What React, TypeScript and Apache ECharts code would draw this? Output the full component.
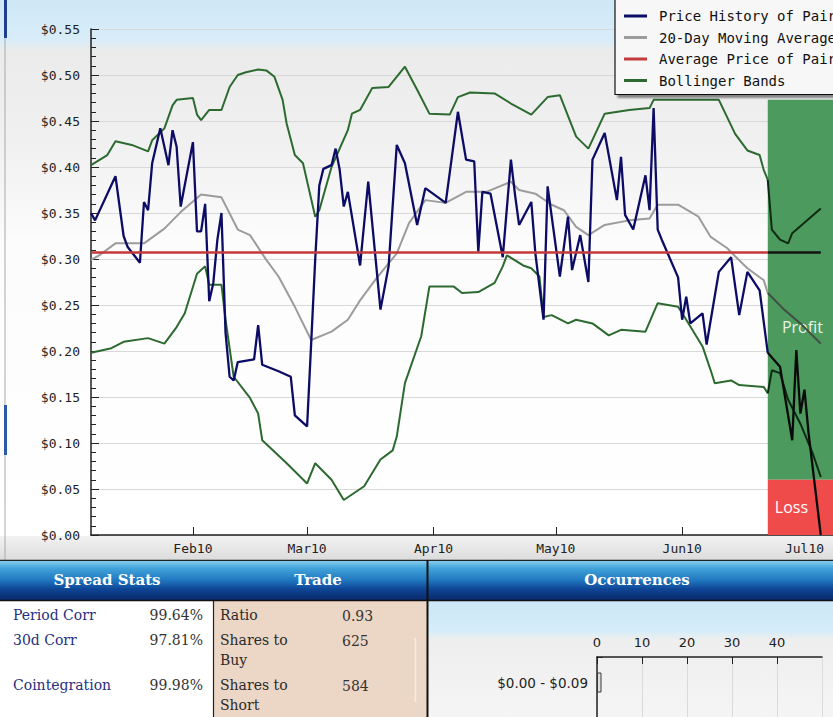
import React, { useEffect, useRef } from 'react';
import * as echarts from 'echarts';

// ---------- categories: calendar days shown on the x axis ----------
const START_UTC = Date.UTC(2010, 0, 7);
const DAY_COUNT = 183;
const dayCategories: string[] = [];
for (let i = 0; i < DAY_COUNT; i++) {
  const d = new Date(START_UTC + i * 86400000);
  dayCategories.push(String(d.getUTCMonth() + 1).padStart(2, '0') + '-' + String(d.getUTCDate()).padStart(2, '0'));
}
const monthNames = ['Jan', 'Feb', 'Mar', 'Apr', 'May', 'Jun', 'Jul', 'Aug', 'Sep', 'Oct', 'Nov', 'Dec'];
const yearSuffix = '10';

const legendNames = ['Price History of Pair', '20-Day Moving Average', 'Average Price of Pair', 'Bollinger Bands'];

// ---------- series values ----------
const price: [string, number][] = [
  ['01-07', 0.350], ['01-08', 0.342], ['01-13', 0.390], ['01-15', 0.325], ['01-16', 0.313], ['01-19', 0.296],
  ['01-20', 0.362], ['01-21', 0.353], ['01-22', 0.404], ['01-24', 0.442], ['01-26', 0.402], ['01-27', 0.440],
  ['01-28', 0.422], ['01-29', 0.357], ['02-01', 0.427], ['02-02', 0.330], ['02-03', 0.330], ['02-04', 0.360],
  ['02-05', 0.254], ['02-06', 0.274], ['02-07', 0.321], ['02-08', 0.350], ['02-09', 0.220], ['02-10', 0.172],
  ['02-11', 0.168], ['02-12', 0.188], ['02-16', 0.191], ['02-17', 0.228], ['02-18', 0.185], ['02-22', 0.178],
  ['02-25', 0.172], ['02-26', 0.130], ['03-01', 0.118], ['03-02', 0.208], ['03-03', 0.300], ['03-04', 0.380],
  ['03-05', 0.398], ['03-07', 0.402], ['03-08', 0.420], ['03-09', 0.397], ['03-10', 0.357], ['03-11', 0.373],
  ['03-14', 0.293], ['03-16', 0.384], ['03-19', 0.245], ['03-21', 0.292], ['03-23', 0.424], ['03-25', 0.404],
  ['03-28', 0.337], ['03-30', 0.377], ['04-04', 0.361], ['04-07', 0.460], ['04-09', 0.408], ['04-11', 0.406],
  ['04-12', 0.308], ['04-13', 0.373], ['04-15', 0.371], ['04-18', 0.302], ['04-20', 0.408], ['04-21', 0.370],
  ['04-22', 0.337], ['04-25', 0.362], ['04-26', 0.306], ['04-28', 0.234], ['04-29', 0.379], ['05-02', 0.281],
  ['05-04', 0.346], ['05-05', 0.288], ['05-07', 0.326], ['05-09', 0.275], ['05-10', 0.408], ['05-13', 0.437],
  ['05-16', 0.364], ['05-17', 0.411], ['05-18', 0.348], ['05-20', 0.332], ['05-23', 0.391], ['05-24', 0.353],
  ['05-25', 0.464], ['05-26', 0.332], ['05-27', 0.321], ['05-31', 0.280], ['06-01', 0.234], ['06-02', 0.259],
  ['06-03', 0.230], ['06-06', 0.241], ['06-07', 0.207], ['06-10', 0.286], ['06-13', 0.302], ['06-15', 0.239],
  ['06-17', 0.286], ['06-20', 0.266], ['06-22', 0.198],
];
const priceAfter: [string, number][] = [
  ['06-22', 0.198], ['06-25', 0.183], ['06-28', 0.103], ['06-29', 0.201], ['06-30', 0.132], ['07-01', 0.158],
  ['07-02', 0.111], ['07-05', 0.000],
];

const movingAvg: [string, number][] = [
  ['01-07', 0.299], ['01-09', 0.304], ['01-13', 0.317], ['01-20', 0.317], ['01-25', 0.333], ['01-29', 0.351],
  ['02-03', 0.370], ['02-08', 0.367], ['02-12', 0.332], ['02-15', 0.326], ['02-19', 0.299], ['02-22', 0.281],
  ['02-26', 0.248], ['03-02', 0.212], ['03-07', 0.221], ['03-11', 0.234], ['03-14', 0.255], ['03-18', 0.279],
  ['03-23', 0.306], ['03-26', 0.339], ['03-30', 0.364], ['04-04', 0.361], ['04-09', 0.373], ['04-14', 0.373],
  ['04-20', 0.384], ['04-22', 0.375], ['04-26', 0.371], ['04-30', 0.359], ['05-03', 0.353], ['05-06', 0.335],
  ['05-09', 0.326], ['05-13', 0.337], ['05-19', 0.342], ['05-24', 0.344], ['05-26', 0.359], ['05-31', 0.359],
  ['06-05', 0.346], ['06-08', 0.324], ['06-12', 0.312], ['06-14', 0.303], ['06-17', 0.290], ['06-21', 0.277],
  ['06-22', 0.263],
];
const movingAvgAfter: [string, number][] = [
  ['06-22', 0.263], ['06-26', 0.245], ['06-30', 0.230], ['07-05', 0.208],
];

const upperBand: [string, number][] = [
  ['01-07', 0.402], ['01-11', 0.413], ['01-13', 0.428], ['01-17', 0.424], ['01-21', 0.417], ['01-22', 0.429],
  ['01-25', 0.442], ['01-27', 0.467], ['01-28', 0.473], ['02-01', 0.475], ['02-02', 0.457], ['02-03', 0.451],
  ['02-05', 0.462], ['02-08', 0.462], ['02-10', 0.487], ['02-12', 0.500], ['02-14', 0.503], ['02-17', 0.506],
  ['02-19', 0.505], ['02-21', 0.498], ['02-23', 0.473], ['02-24', 0.447], ['02-26', 0.413], ['02-28', 0.404],
  ['03-03', 0.346], ['03-04', 0.353], ['03-07', 0.400], ['03-11', 0.440], ['03-12', 0.458], ['03-14', 0.462],
  ['03-17', 0.486], ['03-21', 0.487], ['03-25', 0.509], ['03-28', 0.484], ['03-31', 0.458], ['04-05', 0.457],
  ['04-07', 0.476], ['04-10', 0.481], ['04-16', 0.480], ['04-20', 0.469], ['04-25', 0.457], ['04-29', 0.476],
  ['05-02', 0.478], ['05-06', 0.433], ['05-09', 0.420], ['05-13', 0.458], ['05-19', 0.462], ['05-24', 0.464],
  ['05-25', 0.473], ['05-31', 0.473], ['06-10', 0.473], ['06-14', 0.436], ['06-17', 0.418], ['06-20', 0.413],
  ['06-21', 0.397], ['06-22', 0.386],
];
const upperBandAfter: [string, number][] = [
  ['06-22', 0.386], ['06-23', 0.332], ['06-25', 0.321], ['06-27', 0.317], ['06-28', 0.328], ['07-05', 0.355],
];

const lowerBand: [string, number][] = [
  ['01-07', 0.198], ['01-12', 0.203], ['01-15', 0.210], ['01-21', 0.214], ['01-25', 0.208], ['01-28', 0.226],
  ['01-30', 0.241], ['02-02', 0.284], ['02-04', 0.292], ['02-05', 0.272], ['02-08', 0.272], ['02-09', 0.234],
  ['02-11', 0.172], ['02-15', 0.149], ['02-17', 0.132], ['02-18', 0.103], ['02-24', 0.078], ['03-01', 0.056],
  ['03-03', 0.078], ['03-07', 0.060], ['03-10', 0.038], ['03-15', 0.053], ['03-19', 0.082], ['03-22', 0.092],
  ['03-23', 0.107], ['03-25', 0.165], ['03-29', 0.216], ['03-31', 0.270], ['04-06', 0.270], ['04-08', 0.263],
  ['04-12', 0.264], ['04-16', 0.274], ['04-18', 0.292], ['04-19', 0.304], ['04-23', 0.293], ['04-25', 0.290],
  ['04-27', 0.281], ['04-28', 0.237], ['04-30', 0.239], ['05-04', 0.230], ['05-06', 0.234], ['05-10', 0.230],
  ['05-14', 0.217], ['05-17', 0.223], ['05-23', 0.221], ['05-26', 0.252], ['05-31', 0.248], ['06-02', 0.234],
  ['06-06', 0.205], ['06-08', 0.179], ['06-09', 0.165], ['06-13', 0.168], ['06-15', 0.163], ['06-21', 0.161],
  ['06-22', 0.154],
];
const lowerBandAfter: [string, number][] = [
  ['06-22', 0.154], ['06-23', 0.179], ['06-25', 0.176], ['06-27', 0.147], ['06-30', 0.121], ['07-03', 0.089],
  ['07-05', 0.063],
];

const averagePrice = 0.307;
const averageSpan: string[] = ['01-07', '06-22'];
const averageSpanAfter: string[] = ['06-22', '07-05'];

// shaded outcome zones
const zoneStart = '06-22';
const zoneEnd = '07-08';
const profitRange: [number, number] = [0.06, 0.473];
const lossRange: [number, number] = [0, 0.06];

// bottom tables
const spreadStats: [string, string][] = [['Period Corr', '99.64%'], ['30d Corr', '97.81%'], ['Cointegration', '99.98%']];
const tradeRows: [string[], string][] = [[['Ratio'], '0.93'], [['Shares to', 'Buy'], '625'], [['Shares to', 'Short'], '584']];
const occurrenceBins = ['$0.00 - $0.09'];
const occurrenceCounts: number[] = [1];

const lg = (stops: [number, string][]) =>
  new echarts.graphic.LinearGradient(0, 0, 0, 1, stops.map(([offset, color]) => ({ offset, color })));

const mono = 'DejaVu Sans Mono';
const serif = 'DejaVu Serif';

function buildOption(): any {
  const isMonthStart = (_i: number, v: string) => v.endsWith('-01');
  const lineSeries = (name: string, data: any[], color: string, width: number, extra: any = {}) => ({
    name,
    type: 'line',
    xAxisIndex: 0,
    yAxisIndex: 0,
    data,
    symbol: 'none',
    showSymbol: false,
    silent: true,
    lineStyle: { color, width },
    itemStyle: { color },
    ...extra,
  });

  const graphics: any[] = [];
  // page background of the upper chart
  graphics.push({
    type: 'rect', silent: true, z: -10,
    shape: { x: 0, y: 0, width: 833, height: 536 },
    style: { fill: lg([[0, '#cfe7f6'], [0.075, '#d8edf8'], [0.095, '#ebebeb'], [0.28, '#f1f1f1'], [0.45, '#fcfcfc'], [1, '#ffffff']]) },
  });
  // x label strip
  graphics.push({
    type: 'rect', silent: true, z: -10,
    shape: { x: 0, y: 536, width: 833, height: 24 },
    style: { fill: lg([[0, '#f2f2f2'], [1, '#dcdcdc']]) },
  });
  // left window edge
  graphics.push({ type: 'line', silent: true, z: -9, shape: { x1: 5, y1: 0, x2: 5, y2: 560 }, style: { stroke: '#a9a9a9', lineWidth: 1 } });
  graphics.push({ type: 'rect', silent: true, z: -9, shape: { x: 4, y: 0, width: 3, height: 38 }, style: { fill: '#1d3f8c' } });
  graphics.push({ type: 'rect', silent: true, z: -9, shape: { x: 4, y: 405, width: 3, height: 50 }, style: { fill: '#2a5aa8' } });
  graphics.push({ type: 'line', silent: true, z: -9, shape: { x1: 0, y1: 560.5, x2: 833, y2: 560.5 }, style: { stroke: '#222', lineWidth: 1.5 } });
  // header bar
  graphics.push({
    type: 'rect', silent: true, z: -9,
    shape: { x: 0, y: 561, width: 833, height: 39 },
    style: { fill: lg([[0, '#86cdee'], [0.18, '#43a4da'], [0.5, '#1f76be'], [0.72, '#0f4596'], [1, '#0a2a6a']]) },
  });
  graphics.push({ type: 'line', silent: true, z: -8, shape: { x1: 0, y1: 600.5, x2: 833, y2: 600.5 }, style: { stroke: '#111', lineWidth: 1.5 } });
  // content backgrounds
  graphics.push({ type: 'rect', silent: true, z: -9, shape: { x: 0, y: 601, width: 213, height: 116 }, style: { fill: '#ffffff' } });
  graphics.push({ type: 'rect', silent: true, z: -9, shape: { x: 213, y: 601, width: 214, height: 116 }, style: { fill: '#ecd6c5' } });
  graphics.push({ type: 'line', silent: true, z: -8, shape: { x1: 415.5, y1: 638, x2: 415.5, y2: 702 }, style: { stroke: '#f6ece4', lineWidth: 1.5 } });
  graphics.push({
    type: 'rect', silent: true, z: -9,
    shape: { x: 428, y: 601, width: 405, height: 116 },
    style: { fill: lg([[0, '#cbe7f7'], [0.26, '#d6edf9'], [0.33, '#eeeeee'], [1, '#f5f5f5']]) },
  });
  graphics.push({ type: 'line', silent: true, z: -8, shape: { x1: 427.5, y1: 560, x2: 427.5, y2: 717 }, style: { stroke: '#111', lineWidth: 2 } });
  graphics.push({ type: 'line', silent: true, z: -8, shape: { x1: 213.5, y1: 601, x2: 213.5, y2: 717 }, style: { stroke: '#222', lineWidth: 1.2 } });
  // header texts
  const headerText = (text: string, x: number) => ({
    type: 'text', silent: true, z: 5, x, y: 580,
    style: { text, fill: '#ffffff', fontFamily: serif, fontWeight: 'bold', fontSize: 15, align: 'center', verticalAlign: 'middle' },
  });
  graphics.push(headerText('Spread Stats', 107), headerText('Trade', 318), headerText('Occurrences', 637));
  // spread stats
  const statY = [615, 640, 685];
  spreadStats.forEach(([label, value], i) => {
    graphics.push({ type: 'text', silent: true, z: 5, x: 13, y: statY[i], style: { text: label, fill: '#262f80', fontFamily: serif, fontSize: 14, align: 'left', verticalAlign: 'middle' } });
    graphics.push({ type: 'text', silent: true, z: 5, x: 203, y: statY[i], style: { text: value, fill: '#333333', fontFamily: serif, fontSize: 14, align: 'right', verticalAlign: 'middle' } });
  });
  // trade
  tradeRows.forEach(([labels, value], i) => {
    labels.forEach((l, j) => {
      graphics.push({ type: 'text', silent: true, z: 5, x: 220, y: statY[i] + j * 20, style: { text: l, fill: '#2a2a2a', fontFamily: serif, fontSize: 14, align: 'left', verticalAlign: 'middle' } });
    });
    graphics.push({ type: 'text', silent: true, z: 5, x: 342, y: statY[i] + 1, style: { text: value, fill: '#333333', fontFamily: serif, fontSize: 14, align: 'left', verticalAlign: 'middle' } });
  });

  const dark = '#0a0a0a';
  const series: any[] = [
    lineSeries('Bollinger Bands', upperBand, '#2c6a30', 2),
    lineSeries('Bollinger Bands', lowerBand, '#2c6a30', 2),
    lineSeries('20-Day Moving Average', movingAvg, '#9c9c9c', 2),
    lineSeries('Price History of Pair', price, '#0c0c66', 2.3),
    lineSeries('Average Price of Pair', averageSpan.map((d) => [d, averagePrice]), '#c43a3a', 2.6),
    lineSeries('upper after', upperBandAfter, '#0e2a12', 2),
    lineSeries('lower after', lowerBandAfter, '#0e2a12', 2),
    lineSeries('ma after', movingAvgAfter, '#3f4d42', 2),
    lineSeries('price after', priceAfter, dark, 2.3),
    lineSeries('average after', averageSpanAfter.map((d) => [d, averagePrice]), '#141414', 2.4, {
      markArea: {
        silent: true,
        data: [
          [
            {
              xAxis: zoneStart, yAxis: profitRange[0],
              itemStyle: { color: '#4c9a5d', opacity: 1 },
              label: { show: true, position: 'inside', offset: [2, 37], formatter: 'Profit', color: '#e6f3e6', fontFamily: 'Open Sans', fontSize: 16 },
            },
            { xAxis: zoneEnd, yAxis: profitRange[1] },
          ],
          [
            {
              xAxis: zoneStart, yAxis: lossRange[0],
              itemStyle: { color: '#ef4b4b', opacity: 1 },
              label: { show: true, position: 'inside', offset: [-9, 0], formatter: 'Loss', color: '#ffffff', fontFamily: 'Open Sans', fontSize: 16 },
            },
            { xAxis: zoneEnd, yAxis: lossRange[1] },
          ],
        ],
      },
    }),
    {
      name: 'occurrences',
      type: 'bar',
      xAxisIndex: 1,
      yAxisIndex: 1,
      data: occurrenceCounts,
      barWidth: 20,
      silent: true,
      itemStyle: { color: '#dedede', borderColor: '#3a3a3a', borderWidth: 1 },
    },
  ];

  return {
    animation: false,
    backgroundColor: 'transparent',
    graphic: { elements: graphics },
    legend: {
      data: legendNames,
      orient: 'vertical',
      left: 615,
      top: -5,
      padding: [13, 40, 6, 9],
      itemGap: 5.5,
      itemWidth: 23,
      itemHeight: 3,
      icon: 'rect',
      selectedMode: false,
      backgroundColor: '#f7f7f7',
      borderColor: '#111111',
      borderWidth: 1.2,
      shadowColor: 'rgba(0,0,0,0.45)',
      shadowBlur: 2,
      shadowOffsetX: 3,
      shadowOffsetY: 3,
      textStyle: { fontFamily: mono, fontSize: 14, color: '#111', lineHeight: 16, padding: [0, 0, 0, 7] },
    },
    grid: [
      { left: 91, right: 0, top: 29, bottom: 182, outerBoundsMode: 'none' },
      { left: 597, top: 657, width: 225, height: 102, outerBoundsMode: 'none' },
    ],
    xAxis: [
      {
        type: 'category',
        gridIndex: 0,
        data: dayCategories,
        boundaryGap: false,
        axisLine: { lineStyle: { color: '#222', width: 1.5 } },
        axisTick: { show: true, inside: true, length: 8, interval: isMonthStart, lineStyle: { color: '#222' } },
        axisLabel: {
          interval: isMonthStart,
          margin: 7,
          fontFamily: mono,
          fontSize: 13,
          color: '#222',
          formatter: (v: string) => monthNames[parseInt(v.slice(0, 2), 10) - 1] + yearSuffix,
        },
        splitLine: { show: false },
      },
      {
        type: 'value',
        gridIndex: 1,
        position: 'top',
        min: 0,
        max: 50,
        interval: 10,
        axisLine: { show: true, lineStyle: { color: '#222', width: 1.5 } },
        axisTick: { show: true, inside: true, length: 7, lineStyle: { color: '#222' } },
        axisLabel: { fontFamily: 'DejaVu Sans', fontSize: 13, color: '#222', margin: 8, showMaxLabel: false },
        splitLine: { show: true, lineStyle: { color: '#dadada' } },
      },
    ],
    yAxis: [
      {
        type: 'value',
        gridIndex: 0,
        min: 0,
        max: 0.55,
        interval: 0.05,
        axisLine: { show: true, lineStyle: { color: '#222', width: 1.5 } },
        axisTick: { show: true, inside: true, length: 8, lineStyle: { color: '#222' } },
        minorTick: { show: true, splitNumber: 5, length: 5, lineStyle: { color: '#222' } },
        axisLabel: { fontFamily: mono, fontSize: 13, color: '#222', margin: 11, formatter: (v: number) => '$' + v.toFixed(2) },
        splitLine: { show: true, lineStyle: { color: '#d8d8d8', width: 1 } },
      },
      {
        type: 'category',
        gridIndex: 1,
        data: occurrenceBins,
        inverse: true,
        max: 1,
        axisLine: { show: true, lineStyle: { color: '#222', width: 1.5 } },
        axisTick: { show: true, inside: true, length: 6, lineStyle: { color: '#222' } },
        axisLabel: {
          fontFamily: 'DejaVu Sans', fontSize: 13.5, color: '#222', margin: 9,
          interval: (i: number) => i < occurrenceBins.length,
          formatter: (v: string) => v || '',
        },
        splitLine: { show: false },
      },
    ],
    series,
  };
}

export default function App() {
  const ref = useRef<HTMLDivElement>(null);
  useEffect(() => {
    if (!ref.current) return;
    const chart = echarts.init(ref.current, undefined, { renderer: 'svg' });
    chart.setOption(buildOption());
    return () => chart.dispose();
  }, []);
  return (
    <div
      ref={ref}
      style={{ position: 'absolute', left: 0, top: 0, width: 833, height: 717, overflow: 'hidden', background: '#ffffff' }}
    />
  );
}
